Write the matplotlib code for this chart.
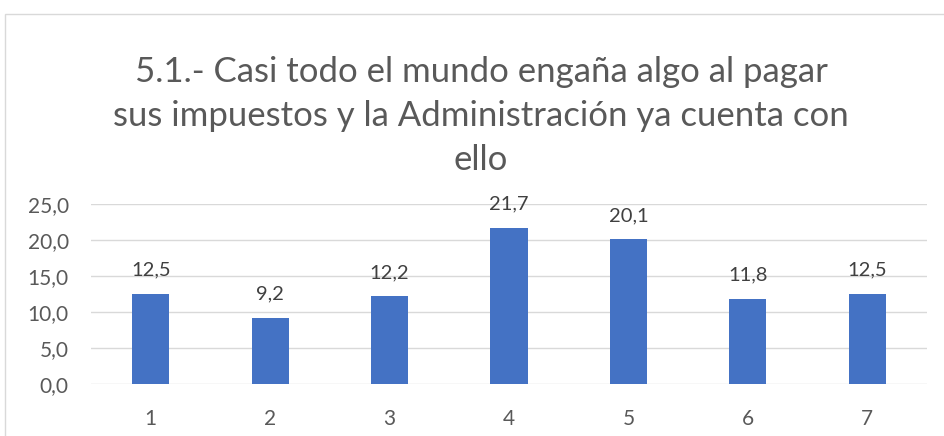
import matplotlib.pyplot as plt
from matplotlib.patches import Rectangle

categories = ['1', '2', '3', '4', '5', '6', '7']
values = [12.5, 9.2, 12.2, 21.7, 20.1, 11.8, 12.5]
yticks = [0, 5, 10, 15, 20, 25]

plt.rcParams['font.family'] = ['Lato', 'DejaVu Sans']

fig = plt.figure(figsize=(9.45, 4.36), dpi=100)
W, H = 945, 436

# chart border
fig.patches.append(Rectangle((5 / W, -0.1), 1.0, (H - 14) / H + 0.1,
                             transform=fig.transFigure, fill=False,
                             edgecolor='#d9d9d9', linewidth=1))

ax = fig.add_axes([91 / W, 52 / H, (927 - 91) / W, (232 - 52) / H])
x = range(len(categories))
ax.bar(x, values, width=0.31, color='#4472c4', zorder=3)

for xi, v in zip(x, values):
    ax.annotate(f'{v:.1f}'.replace('.', ','), (xi, v), xytext=(0, 11),
                textcoords='offset points', ha='center', va='bottom',
                fontsize=14.5, color='#404040')

ax.set_xlim(-0.5, len(categories) - 0.5)
ax.set_ylim(0, 25)
ax.set_yticks(yticks)
ax.set_yticklabels([f'{t:.1f}'.replace('.', ',') for t in yticks])
ax.set_xticks(list(x))
ax.set_xticklabels(categories)
ax.tick_params(length=0, labelsize=15, labelcolor='#595959')
ax.tick_params(axis='y', pad=16)
ax.tick_params(axis='x', pad=18)
ax.grid(axis='y', color='#d9d9d9', linewidth=1, zorder=0)
for s in ax.spines.values():
    s.set_visible(False)

fig.text(481 / W, 1 - 116 / H,
         '5.1.- Casi todo el mundo engaña algo al pagar\n'
         'sus impuestos y la Administración ya cuenta con\nello',
         ha='center', va='center', fontsize=25, color='#595959',
         linespacing=1.45)

fig.savefig('out.png', dpi=100)
